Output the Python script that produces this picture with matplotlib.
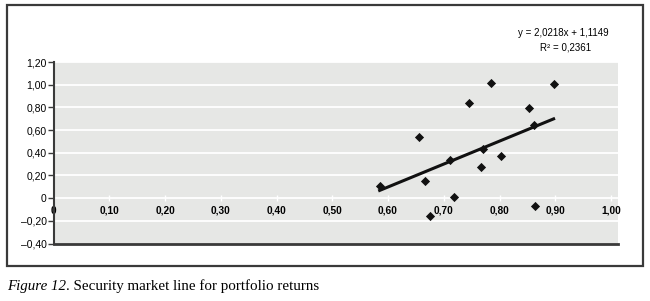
import numpy as np
import matplotlib.pyplot as plt
from matplotlib.patches import Rectangle

# Data titik portofolio (beta, return)
beta = [0.585, 0.655, 0.666, 0.676, 0.711, 0.719, 0.745, 0.767,
        0.770, 0.785, 0.803, 0.852, 0.862, 0.864, 0.897]
returns = [0.11, 0.535, 0.155, -0.158, 0.335, 0.01, 0.836, 0.273,
           0.432, 1.016, 0.367, 0.795, 0.648, -0.066, 1.007]

# Garis tren linear (koefisien dari Excel)
slope = 2.0218
intercept = -1.1149
eq_label = "y = 2,0218x + 1,1149"
r2_label = "R² = 0,2361"

x_ticks = [0, 0.1, 0.2, 0.3, 0.4, 0.5, 0.6, 0.7, 0.8, 0.9, 1.0]
x_ticklabels = ["0", "0,10", "0,20", "0,30", "0,40", "0,50",
                "0,60", "0,70", "0,80", "0,90", "1,00"]
y_ticks = [-0.4, -0.2, 0, 0.2, 0.4, 0.6, 0.8, 1.0, 1.2]
y_ticklabels = ["–0,40", "–0,20", "0", "0,20", "0,40", "0,60",
                "0,80", "1,00", "1,20"]

narrow = ['Liberation Sans Narrow', 'Liberation Sans', 'DejaVu Sans']

fig = plt.figure(figsize=(6.5, 3.01), dpi=100)
fig.patch.set_facecolor('white')

# Bingkai luar
fig.add_artist(Rectangle((7 / 650, 1 - 266 / 301), 636 / 650, 261 / 301,
                         transform=fig.transFigure, fill=False,
                         edgecolor='#3a3a3a', linewidth=1.6))

ax = fig.add_axes([53.5 / 650, 1 - 243.5 / 301, 564.5 / 650, 181.5 / 301])
ax.set_facecolor('#e6e7e5')
ax.set_xlim(0, 1.0125)
ax.set_ylim(-0.4, 1.2)

for y in y_ticks[1:]:
    ax.axhline(y, color='white', linewidth=1.3, zorder=1)

ax.scatter(beta, returns, marker='D', s=22, color='#111111', zorder=3,
           linewidths=0)

xs = np.array([min(beta), max(beta)])
ax.plot(xs, slope * xs + intercept, color='#111111', linewidth=2.2, zorder=2)

# Sumbu
for side in ['top', 'right']:
    ax.spines[side].set_visible(False)
ax.spines['left'].set_color('#3a3a3a')
ax.spines['left'].set_linewidth(1.5)
ax.spines['bottom'].set_position(('data', 0))
ax.spines['bottom'].set_visible(False)
ax.axhline(-0.4, color='#3a3a3a', linewidth=2, zorder=4, clip_on=False)

ax.set_yticks(y_ticks)
ax.set_yticklabels(y_ticklabels, family=narrow, fontsize=7.5)
ax.tick_params(axis='y', direction='out', length=4, width=1,
               color='#3a3a3a', pad=1)

ax.set_xticks(x_ticks)
ax.set_xticklabels(x_ticklabels, family=narrow, fontsize=7.3, fontweight='bold')
ax.tick_params(axis='x', direction='inout', length=5, width=1,
               color='white', pad=3)

fig.text(563 / 650, 1 - 33 / 301, eq_label, ha='center', va='center',
         family=narrow, fontsize=7)
fig.text(566 / 650, 1 - 48 / 301, r2_label, ha='center', va='center',
         family=narrow, fontsize=7)

# Keterangan gambar
t1 = fig.text(7 / 650, 1 - 290 / 301, "Figure 12", family='Liberation Serif',
              style='italic', fontsize=10.8, ha='left', va='baseline')
ax.annotate(". Security market line for portfolio returns", xy=(1, 0),
            xycoords=t1, ha='left', va='bottom', family='Liberation Serif',
            fontsize=10.8, annotation_clip=False)

fig.savefig('out.png', dpi=100)
